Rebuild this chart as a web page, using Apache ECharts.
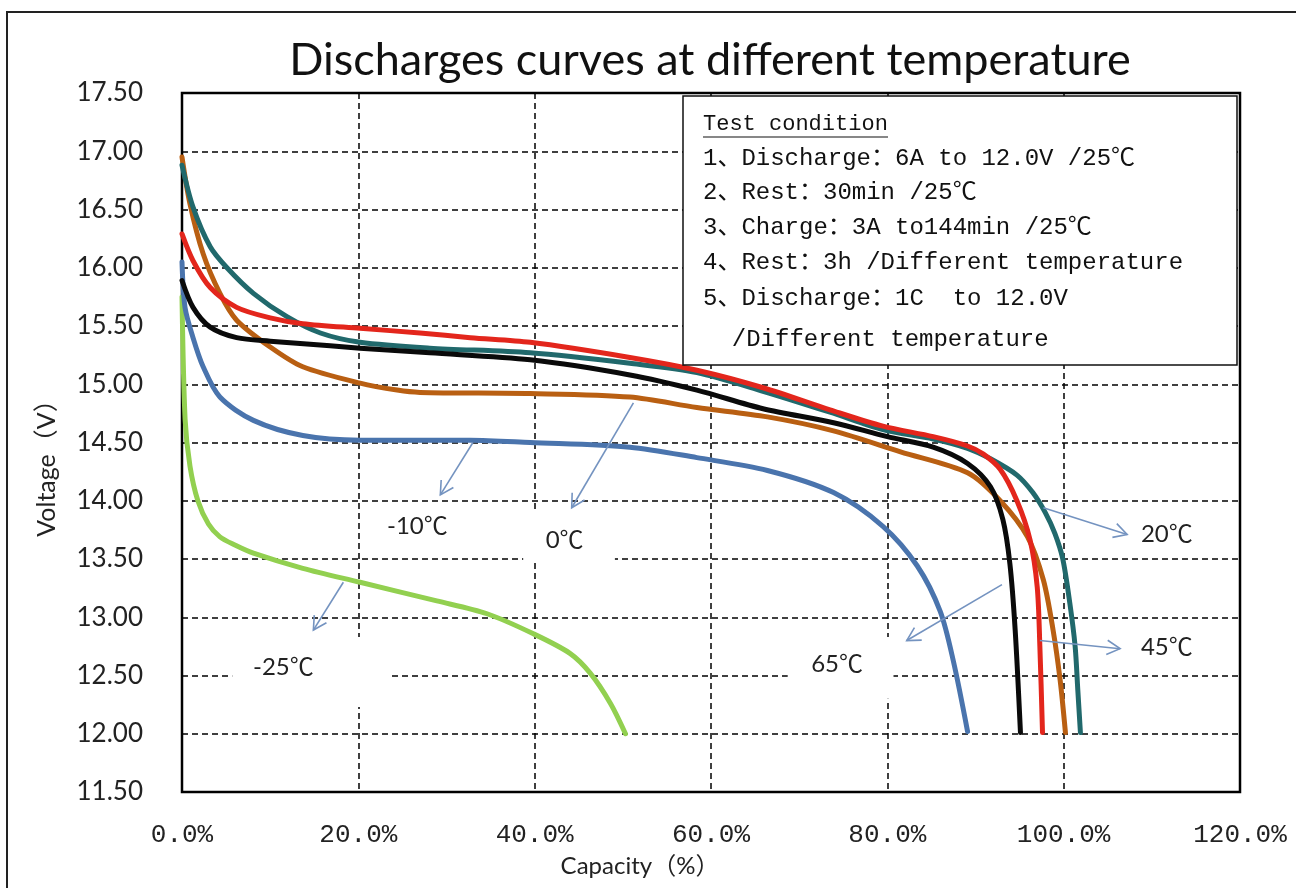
<!DOCTYPE html>
<html><head><meta charset="utf-8">
<script src="https://cdn.jsdelivr.net/npm/echarts@6/dist/echarts.min.js"></script>
<style>html,body{margin:0;padding:0;background:#fff}#c{width:1296px;height:888px}</style>
</head><body><div id="c"></div>
<script>
// ---------- data ----------
const seriesNames = ['-25℃', '-10℃', '0℃', '20℃', '45℃', '65℃'];
const capM25 = [0, 0.35, 0.9, 1.8, 3, 4.3, 6, 8.1, 13.7, 20.2, 28.9, 34.6, 39.8, 44, 46.3, 48.6, 50.3];
const voltM25 = [15.75, 14.7, 14.3, 14.0, 13.8, 13.69, 13.62, 13.55, 13.42, 13.30, 13.14, 13.03, 12.86, 12.69, 12.52, 12.26, 12.0];
const capM10 = [0, 0.34, 1.25, 2.4, 4.3, 8.1, 13.7, 20.2, 32.7, 39.5, 50.8, 58.4, 66.4, 73.9, 79.5, 83.4, 86.0, 87.5, 89.1];
const voltM10 = [16.05, 15.66, 15.40, 15.15, 14.89, 14.69, 14.56, 14.52, 14.52, 14.50, 14.46, 14.37, 14.26, 14.07, 13.78, 13.44, 13.05, 12.62, 12.02];
const cap0 = [0, 0.9, 2.4, 4.3, 6.2, 10, 13.7, 20.2, 24.4, 27, 39.5, 50.8, 58.4, 66.4, 73.9, 81.5, 89.1, 92.8, 95.9, 97.7, 98.8, 99.6, 100.2];
const volt0 = [16.95, 16.55, 16.12, 15.78, 15.55, 15.32, 15.15, 15.01, 14.95, 14.93, 14.92, 14.89, 14.80, 14.72, 14.60, 14.42, 14.24, 14.0, 13.69, 13.32, 12.89, 12.46, 12.01];
const cap20 = [0, 1.25, 3.2, 5.1, 8.1, 11.9, 15.7, 20.2, 28.1, 39.5, 50.8, 58.4, 65.9, 73.5, 79.5, 85.2, 89.1, 91.7, 94.7, 96.5, 97.9, 99.0, 99.9, 100.7, 101.3, 101.6, 101.9];
const volt20 = [16.88, 16.52, 16.18, 16.0, 15.78, 15.58, 15.44, 15.36, 15.31, 15.27, 15.18, 15.10, 14.94, 14.76, 14.61, 14.53, 14.45, 14.36, 14.22, 14.07, 13.90, 13.72, 13.50, 13.12, 12.75, 12.38, 12.01];
const cap45 = [0, 1.25, 3.2, 6.2, 10, 13.7, 20.2, 27, 32.7, 39.5, 50.8, 58.4, 65.9, 73.5, 79.5, 85.2, 89.1, 90.9, 92.8, 94.7, 96.2, 97.0, 97.3, 97.6];
const volt45 = [16.29, 16.06, 15.83, 15.66, 15.57, 15.52, 15.48, 15.44, 15.40, 15.36, 15.23, 15.12, 14.97, 14.78, 14.64, 14.55, 14.47, 14.40, 14.27, 14.0, 13.66, 13.26, 12.75, 12.01];
const cap65 = [0, 1.25, 3.2, 6.2, 10, 16.8, 20.2, 28.1, 39.5, 50.8, 58.4, 65.9, 73.9, 80, 85.2, 89.1, 91.7, 93.1, 93.9, 94.5, 95.1];
const volt65 = [15.89, 15.66, 15.49, 15.40, 15.37, 15.33, 15.31, 15.27, 15.21, 15.08, 14.95, 14.79, 14.67, 14.55, 14.46, 14.32, 14.12, 13.84, 13.46, 12.89, 12.01];

const xMin = 0, xMax = 120, xStep = 20;
const yMin = 11.5, yMax = 17.5, yStep = 0.5;

const titleText = 'Discharges curves at different temperature';
const xName = 'Capacity（%）';
const yName = 'Voltage（V）';
const conditionTitle = 'Test condition';
const conditionLines = [
  '1、Discharge：6A to 12.0V /25℃',
  '2、Rest：30min /25℃',
  '3、Charge：3A to144min /25℃',
  '4、Rest：3h /Different temperature',
  '5、Discharge：1C  to 12.0V',
  '  /Different temperature'
];

// annotations in data coordinates: [fromCap, fromV, toCap, toV]
const arrowDefs = [
  [18.3, 13.30, 14.9, 12.89],
  [33.0, 14.50, 29.3, 14.05],
  [51.2, 14.84, 44.2, 13.94],
  [97.7, 13.94, 107.2, 13.71],
  [97.3, 12.80, 106.4, 12.73],
  [93.0, 13.28, 82.2, 12.80]
];
const labelSpots = [[11.5, 12.57], [26.7, 13.78], [43.4, 13.66], [111.7, 13.71], [111.7, 12.74], [74.3, 12.60]];
const blankBoxes = [[5.7, 12.83, 23.6, 12.23], [38.7, 13.90, 49.1, 13.49], [68.7, 12.83, 80.7, 12.30]];

const colors = ['#92d050', '#4a74ad', '#b95f12', '#21696c', '#e3261c', '#0a0a0a'];
const caps = [capM25, capM10, cap0, cap20, cap45, cap65];
const volts = [voltM25, voltM10, volt0, volt20, volt45, volt65];
const drawOrder = [0, 1, 2, 3, 5, 4];

const sansFont = "Lato, 'Noto Sans CJK SC', sans-serif";
const monoFont = "'Liberation Mono', 'Noto Sans CJK SC', monospace";

const chart = echarts.init(document.getElementById('c'), null, { renderer: 'canvas' });

const series = drawOrder.map((i, k) => ({
  name: seriesNames[i],
  type: 'line',
  data: caps[i].map((c, j) => [c, volts[i][j]]),
  smooth: 0.3,
  showSymbol: false,
  lineStyle: { color: colors[i], width: 5, cap: 'round', join: 'round' },
  z: 2 + k * 0.01
}));

const option = {
  backgroundColor: '#fff',
  animation: false,
  title: {
    text: titleText, left: 705, top: 33, textAlign: 'center',
    textStyle: { fontFamily: sansFont, fontSize: 45, fontWeight: 'normal', color: '#111' }
  },
  grid: { left: 182, right: 56, top: 93, height: 699, show: true, borderColor: '#000', borderWidth: 2.5, backgroundColor: 'transparent' },
  xAxis: {
    type: 'value', min: xMin, max: xMax, interval: xStep,
    axisLine: { show: false }, axisTick: { show: false },
    axisLabel: { margin: 30, fontFamily: monoFont, fontSize: 26, color: '#222', formatter: v => v.toFixed(1) + '%' },
    splitLine: { show: true, showMinLine: false, showMaxLine: false, lineStyle: { color: '#000', type: [6, 4], width: 1.5 } }
  },
  yAxis: {
    type: 'value', min: yMin, max: yMax, interval: yStep,
    axisLine: { show: false }, axisTick: { show: false },
    axisLabel: { margin: 39, fontFamily: sansFont, fontSize: 26, color: '#222', formatter: v => v.toFixed(2) },
    splitLine: { show: true, showMinLine: false, showMaxLine: false, lineStyle: { color: '#000', type: [6, 4], width: 1.5 } }
  },
  series: series
};
chart.setOption(option);

function px(c, v) { return chart.convertToPixel({ gridIndex: 0 }, [c, v]); }

const g = [];
g.push({ type: 'rect', shape: { x: 7, y: 12, width: 1400, height: 1000 }, style: { fill: 'none', stroke: '#222', lineWidth: 2 }, z: 10, silent: true });
g.push({ type: 'text', x: 47, y: 462, rotation: Math.PI / 2, style: { text: yName, fontFamily: sansFont, fontSize: 25, fill: '#222', align: 'center', verticalAlign: 'middle' }, z: 10 });
g.push({ type: 'text', x: 640, y: 866, style: { text: xName, fontFamily: sansFont, fontSize: 24, fill: '#222', align: 'center', verticalAlign: 'middle' }, z: 10 });
blankBoxes.forEach(b => {
  const p1 = px(b[0], b[1]), p2 = px(b[2], b[3]);
  g.push({ type: 'rect', shape: { x: p1[0], y: p1[1], width: p2[0] - p1[0], height: p2[1] - p1[1] }, style: { fill: '#fff' }, z: 1, silent: true });
});
arrowDefs.forEach(a => {
  const p1 = px(a[0], a[1]), p2 = px(a[2], a[3]);
  const ang = Math.atan2(p2[1] - p1[1], p2[0] - p1[0]);
  const L = 15, spread = 0.5;
  const h1 = [p2[0] - L * Math.cos(ang - spread), p2[1] - L * Math.sin(ang - spread)];
  const h2 = [p2[0] - L * Math.cos(ang + spread), p2[1] - L * Math.sin(ang + spread)];
  const st = { stroke: '#7493c0', lineWidth: 1.6, fill: 'none' };
  g.push({ type: 'line', shape: { x1: p1[0], y1: p1[1], x2: p2[0], y2: p2[1] }, style: st, z: 8 });
  g.push({ type: 'polyline', shape: { points: [h1, p2, h2] }, style: st, z: 8 });
});
labelSpots.forEach((s, i) => {
  const p = px(s[0], s[1]);
  g.push({ type: 'text', x: p[0], y: p[1], style: { text: seriesNames[i], fontFamily: sansFont, fontSize: 24, fill: '#222', align: 'center', verticalAlign: 'middle' }, z: 9 });
});
g.push({ type: 'rect', shape: { x: 683, y: 96, width: 554, height: 269 }, style: { fill: '#fff', stroke: '#111', lineWidth: 1.5 }, z: 20 });
g.push({ type: 'text', x: 703, y: 124, style: { text: conditionTitle, fontFamily: monoFont, fontSize: 22, fill: '#111', verticalAlign: 'middle' }, z: 21 });
g.push({ type: 'line', shape: { x1: 703, y1: 137, x2: 888, y2: 137 }, style: { stroke: '#111', lineWidth: 1.2 }, z: 21 });
const lineYs = [159, 193, 228, 263, 299, 340];
conditionLines.forEach((t, i) => {
  g.push({ type: 'text', x: 703, y: lineYs[i], style: { text: t, fontFamily: monoFont, fontSize: 24, fill: '#111', verticalAlign: 'middle' }, z: 21 });
});
chart.setOption({ graphic: { elements: g } });
</script>
</body></html>
